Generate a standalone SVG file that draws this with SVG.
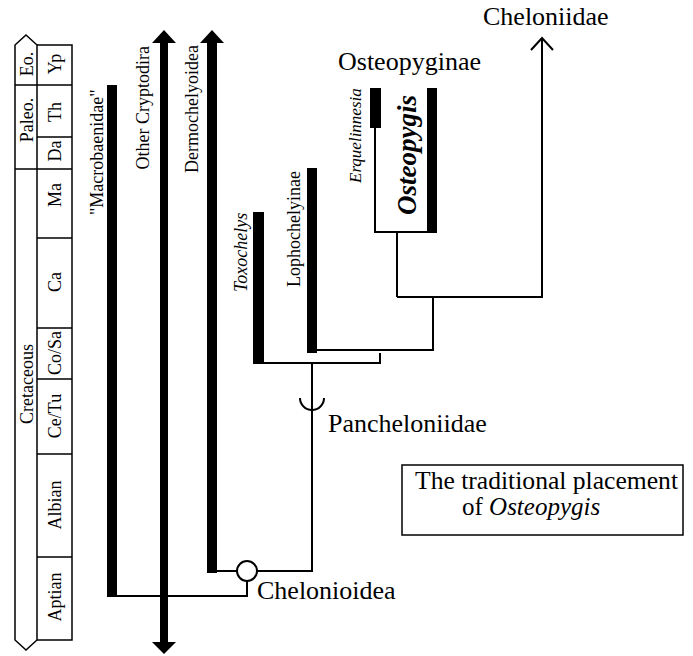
<svg xmlns="http://www.w3.org/2000/svg" width="693" height="656" viewBox="0 0 693 656">
<style>
text{font-family:"Liberation Serif","Times New Roman",serif;fill:#000}
.ts{font-size:18px;text-anchor:middle}
.lb{font-size:26px}
.bx{font-size:25px}
.vl{font-size:18px}
.it{font-style:italic}
.ln{fill:none;stroke:#000;stroke-width:2}
.tk{fill:none;stroke:#000;stroke-width:1.5}
.bar{fill:#000}
</style>
<rect width="693" height="656" fill="#fff"/>
<g id="timescale">
<path class="tk" d="M15,45 L26,35 L37,45 L37,640 L26,650 L15,640 Z"/>
<path class="tk" d="M37,45 H72 V640 H37"/>
<path class="tk" d="M15,85 H72 M15,169 H72 M37,137 H72 M37,238 H72 M37,328 H72 M37,379 H72 M37,454 H72 M37,557 H72"/>
<text class="ts" transform="translate(33,64) rotate(-90)">Eo.</text>
<text class="ts" transform="translate(33,120) rotate(-90)">Paleo.</text>
<text class="ts" transform="translate(33,384) rotate(-90)">Cretaceous</text>
<text class="ts" transform="translate(61,64) rotate(-90)">Yp</text>
<text class="ts" transform="translate(61,112) rotate(-90)">Th</text>
<text class="ts" transform="translate(61,151) rotate(-90)">Da</text>
<text class="ts" transform="translate(61,195) rotate(-90)">Ma</text>
<text class="ts" transform="translate(61,282) rotate(-90)">Ca</text>
<text class="ts" transform="translate(61,353) rotate(-90)">Co/Sa</text>
<text class="ts" transform="translate(61,416) rotate(-90)">Ce/Tu</text>
<text class="ts" transform="translate(61,505) rotate(-90)">Albian</text>
<text class="ts" transform="translate(61,597) rotate(-90)">Aptian</text>
</g>
<g id="connectors">
<path class="ln" d="M117,596 H247 V581"/>
<path class="ln" d="M217,571 H237 M257,571 H312 V363"/>
<path class="ln" d="M264,363 H380 V353"/>
<path class="ln" d="M317,350 H433 V297"/>
<path class="ln" d="M397,297 H542 V38"/>
<path class="ln" d="M531,50 L542,38 L553,50"/>
<path class="ln" d="M397,297 V232"/>
<path class="ln" d="M375,128 V232 H430"/>
<path class="ln" d="M300,398 A12,12 0 0 0 324,398"/>
</g>
<g id="macrobaenidae">
<rect class="bar" x="107" y="85" width="10" height="512"/>
<text class="vl" transform="translate(103,215) rotate(-90)">"Macrobaenidae"</text>
</g>
<g id="other-cryptodira">
<rect class="bar" x="160" y="42" width="8" height="601"/>
<path class="bar" d="M152,43 L164,30 L176,43 Z M152,642 L164,654 L176,642 Z"/>
<text class="vl" text-anchor="end" transform="translate(149,46) rotate(-90)">Other Cryptodira</text>
</g>
<g id="dermochelyoidea">
<rect class="bar" x="207" y="42" width="10" height="531"/>
<path class="bar" d="M200,43 L212,30 L224,43 Z"/>
<text class="vl" transform="translate(198,173) rotate(-90)">Dermochelyoidea</text>
</g>
<g id="chelonioidea">
<circle cx="247" cy="571" r="10" fill="#fff" stroke="#000" stroke-width="2"/>
<text class="lb" x="257" y="599">Chelonioidea</text>
</g>
<g id="toxochelys">
<rect class="bar" x="253" y="212" width="11" height="152"/>
<text class="vl it" transform="translate(247,292) rotate(-90)">Toxochelys</text>
</g>
<g id="lophochelyinae">
<rect class="bar" x="307" y="168" width="10" height="185"/>
<text class="vl" transform="translate(300,287) rotate(-90)">Lophochelyinae</text>
</g>
<g id="pancheloniidae">
<text class="lb" x="328" y="432">Pancheloniidae</text>
</g>
<g id="erquelinnesia">
<rect class="bar" x="370" y="88" width="11" height="40"/>
<text class="it" font-size="17" transform="translate(361,183) rotate(-90)">Erquelinnesia</text>
</g>
<g id="osteopygis">
<rect class="bar" x="427" y="88" width="10" height="145"/>
<text font-size="28" font-weight="bold" font-style="italic" textLength="120" lengthAdjust="spacingAndGlyphs" transform="translate(416,215) rotate(-90)">Osteopygis</text>
</g>
<g id="osteopyginae">
<text class="lb" x="338" y="70">Osteopyginae</text>
</g>
<g id="cheloniidae">
<text class="lb" x="483" y="25">Cheloniidae</text>
</g>
<g id="legend">
<rect x="402" y="465" width="281" height="70" fill="none" stroke="#000" stroke-width="1.5"/>
<text class="bx" x="415" y="489" textLength="263" lengthAdjust="spacingAndGlyphs">The traditional placement</text>
<text class="bx" x="462" y="515">of <tspan class="it">Osteopygis</tspan></text>
</g>
</svg>
